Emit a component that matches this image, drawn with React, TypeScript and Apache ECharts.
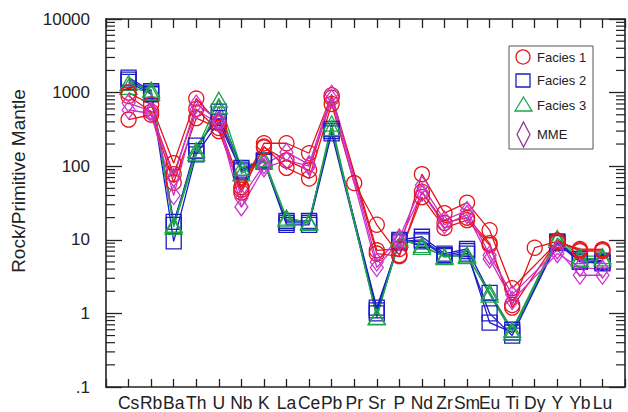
import React, { useEffect, useRef } from "react";
import * as echarts from "echarts";

const elements = ["Cs","Rb","Ba","Th","U","Nb","K","La","Ce","Pb","Pr","Sr","P","Nd","Zr","Sm","Eu","Ti","Dy","Y","Yb","Lu"];

const facies1a = [1000, 690, 110, 830, 380, 52, 205, 205, 150, 920, null, 7.2, 7.5, 78, 23, 32, 13.5, 2.2, null, 9.2, 7.5, 7.4];
const facies1b = [430, 500, 60, 450, 330, 44, 185, 95, 68, 700, 59, 16, 6.2, 38, 14.5, 18.5, 8.5, 1.3, 7.8, 9.5, 7.2, 7.3];
const facies1c = [900, 550, 78, 600, 300, 48, 180, 120, 88, 850, null, 6.5, 6.0, 45, 17, 20, 9, 1.2, null, 9.8, 7.0, 7.0];

const facies2a = [1600, 1050, 17.5, 160, 550, 95, 120, 18, 18, 320, null, 1.1, 10, 11, 6.5, 7.5, 1.9, 0.6, null, 9.5, 5.5, 5.2];
const facies2b = [1400, 950, 9.5, 145, 400, 85, 115, 16, 16, 280, null, 1.0, 9.2, 9.5, 6.0, 6.5, 1.0, 0.5, null, 9, 5.0, 4.8];
const facies2c = [1500, 1000, 16, 190, 450, 90, 118, 17, 17, 300, null, 1.2, 9.5, 10, 6.2, 7, 0.75, 0.55, null, 9.2, 5.2, 5.0];

const facies3a = [1350, 1100, 16, 165, 800, 95, 125, 20, 17, 380, null, 0.88, 10.5, 8, 6, 6, 1.95, 0.6, null, 10.6, 6, 6];
const facies3b = [1200, 1000, 15, 150, 650, 80, 115, 19, 17.5, 330, null, 0.9, 10, 8.5, 5.8, 6.3, 1.8, 0.55, null, 10, 5.5, 5.6];

const mme1 = [720, 560, 70, 700, 420, 37, 105, 155, 105, 950, null, 5, 10.6, 55, 18.5, 25, 6.2, 1.8, null, 7.3, 3.3, 3.3];
const mme2 = [580, 520, 40, 580, 380, 28, 95, 120, 100, 820, null, 4.2, 9.5, 44, 16, 22, 5.5, 1.5, null, 6.5, 4.2, 4.0];

const yTickLabels: Record<string, string> = { "0.1": ".1", "1": "1", "10": "10", "100": "100", "1000": "1000", "10000": "10000" };
const minorMantissas = [2, 3, 4, 5, 6, 7, 8, 9];
const decades = [0.1, 1, 10, 100, 1000];

const RED = "#e3161c";
const BLUE = "#1c1cc4";
const GREEN = "#1ea34c";
const MAG = "#cc33cc";
const FONT = "Liberation Sans, Arial, sans-serif";

function toPoints(arr: (number | null)[]) {
  const pts: number[][] = [];
  arr.forEach((v, i) => {
    if (v != null) pts.push([i, v]);
  });
  return pts;
}

function lineSeries(name: string, arr: (number | null)[], color: string, symbol: string, size: any) {
  return {
    type: "line",
    name,
    data: toPoints(arr),
    symbol,
    symbolSize: size,
    lineStyle: { color, width: 1.3 },
    itemStyle: { color: "rgba(0,0,0,0)", borderColor: color, borderWidth: 1.3 },
    emphasis: { disabled: true },
    silent: true,
  };
}

const axisLine = { show: true, onZero: false, lineStyle: { color: "#222", width: 1.6 } };

export default function App() {
  const ref = useRef<HTMLDivElement>(null);
  useEffect(() => {
    if (!ref.current) return;
    const chart = echarts.init(ref.current, null, { renderer: "svg" });
    const minorTicks: number[][] = [];
    decades.forEach((d) => minorMantissas.forEach((m) => minorTicks.push([0, m * d])));

    const option: any = {
      animation: false,
      backgroundColor: "#fff",
      grid: { left: 106, top: 19, width: 523, height: 368, containLabel: false },
      xAxis: [
        {
          type: "value",
          min: -1,
          max: 22,
          interval: 1,
          position: "bottom",
          axisLine,
          axisTick: { show: true, inside: true, length: 8, lineStyle: { color: "#222", width: 1.3 } },
          axisLabel: {
            show: true,
            margin: 7,
            fontSize: 17.5,
            fontFamily: FONT,
            color: "#222",
            formatter: (v: number) => elements[Math.round(v)] ?? "",
          },
          splitLine: { show: false },
        },
        {
          type: "value",
          min: -1,
          max: 22,
          interval: 1,
          position: "top",
          axisLine,
          axisTick: { show: true, inside: true, length: 9, lineStyle: { color: "#222", width: 1.3 } },
          axisLabel: { show: false },
          splitLine: { show: false },
        },
      ],
      yAxis: [
        {
          type: "log",
          logBase: 10,
          min: 0.1,
          max: 10000,
          splitNumber: 5,
          position: "left",
          axisLine,
          axisTick: { show: true, inside: true, length: 16, lineStyle: { color: "#222", width: 1.3 } },
          axisLabel: {
            show: true,
            margin: 16,
            fontSize: 17,
            fontFamily: FONT,
            color: "#222",
            formatter: (v: number) => {
              const key = String(Number(v.toPrecision(6)));
              return yTickLabels[key] ?? "";
            },
          },
          splitLine: { show: false },
        },
        {
          type: "log",
          logBase: 10,
          min: 0.1,
          max: 10000,
          splitNumber: 5,
          position: "right",
          axisLine,
          axisTick: { show: true, inside: true, length: 16, lineStyle: { color: "#222", width: 1.3 } },
          axisLabel: { show: false },
          splitLine: { show: false },
        },
      ],
      series: [
        {
          type: "custom",
          data: minorTicks,
          silent: true,
          clip: false,
          z: 1,
          renderItem: (params: any, api: any) => {
            const v = api.value(1);
            const y = api.coord([0, v])[1];
            const cs = params.coordSys;
            const st = { stroke: "#222", lineWidth: 1.2 };
            return {
              type: "group",
              children: [
                { type: "line", shape: { x1: cs.x, y1: y, x2: cs.x + 9, y2: y }, style: st },
                { type: "line", shape: { x1: cs.x + cs.width - 9, y1: y, x2: cs.x + cs.width, y2: y }, style: st },
              ],
            };
          },
        },
        lineSeries("Facies 2", facies2a, BLUE, "rect", 15),
        lineSeries("Facies 2", facies2b, BLUE, "rect", 15),
        lineSeries("Facies 2", facies2c, BLUE, "rect", 15),
        lineSeries("Facies 3", facies3a, GREEN, "triangle", [17, 15]),
        lineSeries("Facies 3", facies3b, GREEN, "triangle", [17, 15]),
        lineSeries("Facies 1", facies1a, RED, "circle", 15),
        lineSeries("Facies 1", facies1b, RED, "circle", 15),
        lineSeries("Facies 1", facies1c, RED, "circle", 15),
        lineSeries("MME", mme1, MAG, "diamond", [13, 18]),
        lineSeries("MME", mme2, MAG, "diamond", [13, 18]),
      ],
      graphic: [
        {
          type: "text",
          x: 18,
          y: 181,
          rotation: Math.PI / 2,
          style: {
            text: "Rock/Primitive Mantle",
            font: `19px ${FONT}`,
            fill: "#222",
            textAlign: "center",
            textVerticalAlign: "middle",
          },
        },
        {
          type: "group",
          children: [
            { type: "rect", shape: { x: 509, y: 46, width: 84, height: 103 }, style: { fill: "#fff", stroke: "#555", lineWidth: 1 } },
            { type: "circle", shape: { cx: 523, cy: 57, r: 7 }, style: { fill: "none", stroke: RED, lineWidth: 1.3 } },
            { type: "rect", shape: { x: 516, y: 74, width: 14, height: 13 }, style: { fill: "none", stroke: BLUE, lineWidth: 1.3 } },
            { type: "polygon", shape: { points: [[523.5, 97], [532, 111], [515, 111]] }, style: { fill: "none", stroke: GREEN, lineWidth: 1.3 } },
            { type: "polygon", shape: { points: [[523.5, 122], [530, 134.5], [523.5, 147], [517, 134.5]] }, style: { fill: "none", stroke: "#8e3a8e", lineWidth: 1.3 } },
            { type: "text", x: 537, y: 57, style: { text: "Facies 1", font: `13px ${FONT}`, fill: "#222", textVerticalAlign: "middle" } },
            { type: "text", x: 537, y: 80, style: { text: "Facies 2", font: `13px ${FONT}`, fill: "#222", textVerticalAlign: "middle" } },
            { type: "text", x: 537, y: 105, style: { text: "Facies 3", font: `13px ${FONT}`, fill: "#222", textVerticalAlign: "middle" } },
            { type: "text", x: 537, y: 134, style: { text: "MME", font: `13px ${FONT}`, fill: "#222", textVerticalAlign: "middle" } },
          ],
        },
      ],
    };
    chart.setOption(option);
    return () => chart.dispose();
  }, []);
  return <div ref={ref} style={{ position: "fixed", left: 0, top: 0, width: 628, height: 412 }} />;
}
